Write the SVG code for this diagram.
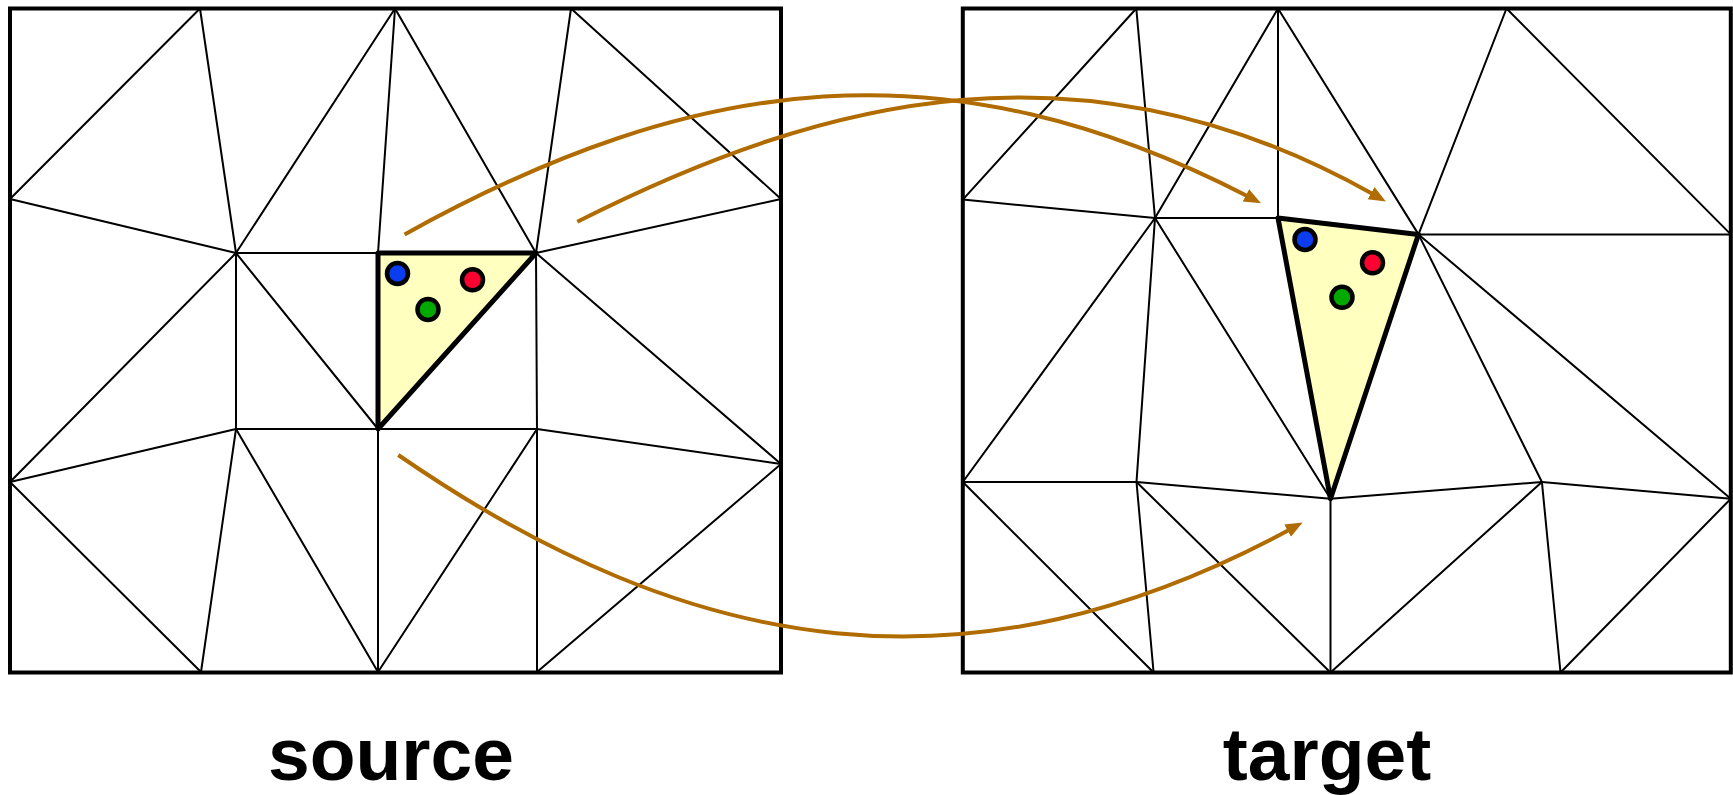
<svg xmlns="http://www.w3.org/2000/svg" width="1733" height="795" viewBox="0 0 1733 795">
<style>
.mesh{stroke:#000;stroke-width:2;fill:none;stroke-linecap:round}
.box{stroke:#000;stroke-width:4;fill:none}
.tri{fill:#FFFFC0;stroke:#000;stroke-width:5;stroke-linejoin:round}
.dot{stroke:#000;stroke-width:4.5}
.arr{stroke:#B06C00;stroke-width:4;fill:none}
.lbl{font-family:"Liberation Sans",Arial,sans-serif;font-weight:bold;font-size:75px;fill:#000;text-anchor:middle}
</style>
<defs>
<marker id="ah" markerUnits="userSpaceOnUse" markerWidth="19" markerHeight="16" viewBox="0 0 19 16" refX="2" refY="8" orient="auto">
<path d="M0,1 L17,8 L0,15 z" fill="#B06C00"/>
</marker>
</defs>
<rect width="1733" height="795" fill="#fff"/>

<g id="source">
<rect class="box" x="10" y="8.5" width="771" height="664"/>
<g class="mesh">
<line x1="10" y1="199" x2="200" y2="8.5"/>
<line x1="200" y1="8.5" x2="236" y2="253"/>
<line x1="236" y1="253" x2="395" y2="8.5"/>
<line x1="395" y1="8.5" x2="378" y2="253"/>
<line x1="395" y1="8.5" x2="536" y2="253"/>
<line x1="571" y1="8.5" x2="536" y2="253"/>
<line x1="571" y1="8.5" x2="781" y2="199"/>
<line x1="10" y1="199" x2="236" y2="253"/>
<line x1="536" y1="253" x2="781" y2="199"/>
<line x1="236" y1="253" x2="378" y2="253"/>
<line x1="236" y1="253" x2="10" y2="482"/>
<line x1="236" y1="253" x2="236" y2="429"/>
<line x1="236" y1="253" x2="378" y2="429"/>
<line x1="536" y1="253" x2="537" y2="429"/>
<line x1="536" y1="253" x2="781" y2="464"/>
<line x1="236" y1="429" x2="537" y2="429"/>
<line x1="236" y1="429" x2="10" y2="482"/>
<line x1="537" y1="429" x2="781" y2="464"/>
<line x1="10" y1="482" x2="201" y2="672"/>
<line x1="236" y1="429" x2="201" y2="672"/>
<line x1="236" y1="429" x2="378" y2="672"/>
<line x1="378" y1="429" x2="378" y2="672"/>
<line x1="537" y1="429" x2="378" y2="672"/>
<line x1="537" y1="429" x2="537" y2="672"/>
<line x1="781" y1="464" x2="537" y2="672"/>
</g>
<polygon class="tri" points="378,253 536,253 378,429"/>
<circle class="dot" cx="397.5" cy="273.5" r="10.5" fill="#0A3CF0"/>
<circle class="dot" cx="472.5" cy="279.8" r="10.5" fill="#FF0030"/>
<circle class="dot" cx="428" cy="309.4" r="10.5" fill="#00A800"/>
</g>

<g id="target">
<rect class="box" x="962.8" y="8.5" width="768" height="664"/>
<g class="mesh">
<line x1="962.8" y1="199.6" x2="1136.3" y2="8.5"/>
<line x1="1136.3" y1="8.5" x2="1155" y2="218"/>
<line x1="1155" y1="218" x2="1278" y2="8.5"/>
<line x1="1278" y1="8.5" x2="1278" y2="218"/>
<line x1="1278" y1="8.5" x2="1418.5" y2="234.4"/>
<line x1="1506.5" y1="8.5" x2="1418.5" y2="234.4"/>
<line x1="1506.5" y1="8.5" x2="1730.8" y2="234.4"/>
<line x1="962.8" y1="199.6" x2="1155" y2="218"/>
<line x1="1155" y1="218" x2="1278" y2="218"/>
<line x1="1418.5" y1="234.4" x2="1730.8" y2="234.4"/>
<line x1="1155" y1="218" x2="962.8" y2="482"/>
<line x1="1155" y1="218" x2="1136.5" y2="482"/>
<line x1="1155" y1="218" x2="1330.5" y2="498.7"/>
<line x1="1418.5" y1="234.4" x2="1541.9" y2="482"/>
<line x1="1418.5" y1="234.4" x2="1730.8" y2="498.7"/>
<line x1="962.8" y1="482" x2="1136.5" y2="482"/>
<line x1="1136.5" y1="482" x2="1330.5" y2="498.7"/>
<line x1="1330.5" y1="498.7" x2="1541.9" y2="482"/>
<line x1="1541.9" y1="482" x2="1730.8" y2="498.7"/>
<line x1="962.8" y1="482" x2="1153.6" y2="672.5"/>
<line x1="1136.5" y1="482" x2="1153.6" y2="672.5"/>
<line x1="1136.5" y1="482" x2="1330.5" y2="672.5"/>
<line x1="1330.5" y1="498.7" x2="1330.5" y2="672.5"/>
<line x1="1541.9" y1="482" x2="1330.5" y2="672.5"/>
<line x1="1541.9" y1="482" x2="1560.5" y2="672.5"/>
<line x1="1730.8" y1="498.7" x2="1560.5" y2="672.5"/>
</g>
<polygon class="tri" points="1278,218 1418.5,234.4 1330.5,498.7"/>
<circle class="dot" cx="1305" cy="239.5" r="10.5" fill="#0A3CF0"/>
<circle class="dot" cx="1372.5" cy="262.8" r="10.5" fill="#FF0030"/>
<circle class="dot" cx="1342" cy="297.3" r="10.5" fill="#00A800"/>
</g>

<g id="connectors">
<path class="arr" marker-end="url(#ah)" d="M404.6,234.4 C697.7,72 948.2,42 1247.7,196.3"/>
<path class="arr" marker-end="url(#ah)" d="M577.3,221.7 C826.5,95.7 1085.7,32.4 1372.8,194.1"/>
<path class="arr" marker-end="url(#ah)" d="M398.3,455 C694.6,659.5 972.6,700.7 1289.4,529.7"/>
</g>

<g id="labels">
<text class="lbl" x="391" y="780">source</text>
<text class="lbl" x="1327" y="780">target</text>
</g>
</svg>
